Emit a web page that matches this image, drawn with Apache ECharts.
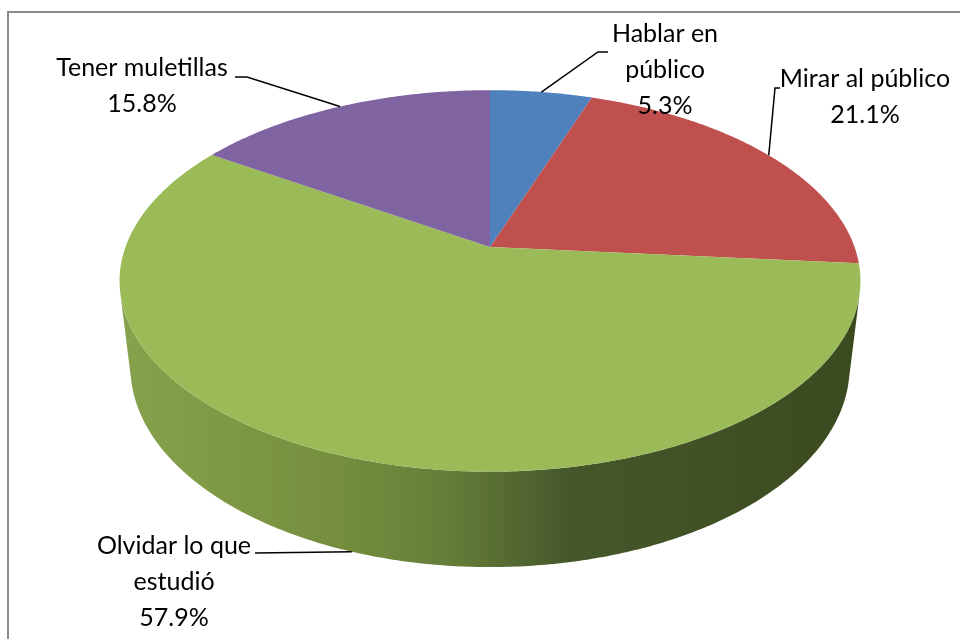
<!DOCTYPE html>
<html>
<head>
    <meta charset="utf-8" />
    <title>Pie 3D</title>
    <script src="https://cdn.jsdelivr.net/npm/echarts@6/dist/echarts.min.js"></script>
</head>
<body style="margin:0;background:#fff;">
    <div id="main" style="width: 960px;height:639px;"></div>
    <script type="text/javascript">
        // datos del gráfico
        var categories = ['Hablar en\npúblico', 'Mirar al público', 'Olvidar lo que\nestudió', 'Tener muletillas'];
        var values = [5.3, 21.1, 57.9, 15.8];
        var colors = ['#4F81BD', '#C0504D', '#9BBB59', '#8064A2'];

        // inicio acumulado de cada porción
        var total = 0, starts = [];
        for (var i = 0; i < values.length; i++) {
            starts.push(total);
            total += values[i];
        }

        // cámara para el efecto 3D (perspectiva tipo Excel)
        var view = { cx: 490, cy: 247, f: 1768, dist: 4.85, tilt: 30.44 * Math.PI / 180, depth: 0.2795 };
        var sa = Math.sin(view.tilt), ca = Math.cos(view.tilt);
        // rango de la pared lateral visible
        var sideLim = Math.acos(-1 / (view.dist * ca));
        var sideMin = sideLim, sideMax = 2 * Math.PI - sideLim;

        function project(theta, y) {
            var X = Math.sin(theta), Z = -Math.cos(theta);
            var d = view.dist - y * sa - Z * ca;
            return [view.cx + view.f * X / d, view.cy + view.f * (Z * sa - y * ca) / d];
        }
        function arc(a0, a1, y) {
            var pts = [], n = Math.max(2, Math.ceil((a1 - a0) / 0.01));
            for (var k = 0; k <= n; k++) pts.push(project(a0 + (a1 - a0) * k / n, y));
            return pts;
        }

        // posición de las etiquetas (texto y quiebre de la línea guía)
        var labelLayout = [
            { x: 665, y: 16, line: [[608, 52], [598, 52]] },
            { x: 865, y: 61, line: [[780, 88], [775, 88]] },
            { x: 174, y: 528, line: [[255, 553]] },
            { x: 142, y: 50, line: [[235, 77], [247, 77]] }
        ];

        var myChart = echarts.init(document.getElementById('main'));
        var option = {
            animation: false,
            graphic: [{
                type: 'rect',
                shape: { x: 8, y: 12, width: 1000, height: 700 },
                style: { fill: 'none', stroke: '#8c8c8c', lineWidth: 2 }
            }],
            series: [{
                type: 'custom',
                coordinateSystem: 'none',
                data: values,
                renderItem: function (params, api) {
                    var i = params.dataIndex;
                    var a0 = starts[i] / total * 2 * Math.PI;
                    var a1 = (starts[i] + values[i]) / total * 2 * Math.PI;
                    var children = [];

                    // pared lateral
                    var s0 = Math.max(a0, sideMin), s1 = Math.min(a1, sideMax);
                    if (s1 > s0) {
                        var sidePts = arc(s0, s1, 0).concat(arc(s0, s1, -view.depth).reverse());
                        children.push({
                            type: 'polygon', z2: 1,
                            shape: { points: sidePts },
                            style: {
                                fill: {
                                    type: 'linear', x: 0, y: 0, x2: 1, y2: 0,
                                    colorStops: [
                                        { offset: 0, color: '#87a24c' },
                                        { offset: 0.3, color: '#748e3e' },
                                        { offset: 0.45, color: '#647d38' },
                                        { offset: 0.6, color: '#46582b' },
                                        { offset: 1, color: '#3b4a1f' }
                                    ]
                                }
                            }
                        });
                    }

                    // cara superior
                    var topPts = [[view.cx, view.cy]].concat(arc(a0, a1, 0));
                    children.push({
                        type: 'polygon', z2: 2,
                        shape: { points: topPts },
                        style: { fill: colors[i] }
                    });

                    // línea guía y etiqueta
                    var mid = (a0 + a1) / 2;
                    var onSide = mid > sideMin && mid < sideMax;
                    var anchor = project(mid, onSide ? -view.depth : 0);
                    var lay = labelLayout[i];
                    children.push({
                        type: 'polyline', z2: 5,
                        shape: { points: lay.line.concat([anchor]) },
                        style: { stroke: '#000', lineWidth: 1.5, fill: null }
                    });
                    children.push({
                        type: 'text', z2: 6,
                        x: lay.x, y: lay.y,
                        style: {
                            text: categories[i] + '\n' + values[i].toFixed(1) + '%',
                            fill: '#000',
                            font: '25px Lato',
                            align: 'center',
                            verticalAlign: 'top',
                            lineHeight: 36
                        }
                    });
                    return { type: 'group', children: children };
                }
            }]
        };
        myChart.setOption(option);
    </script>
</body>
</html>
